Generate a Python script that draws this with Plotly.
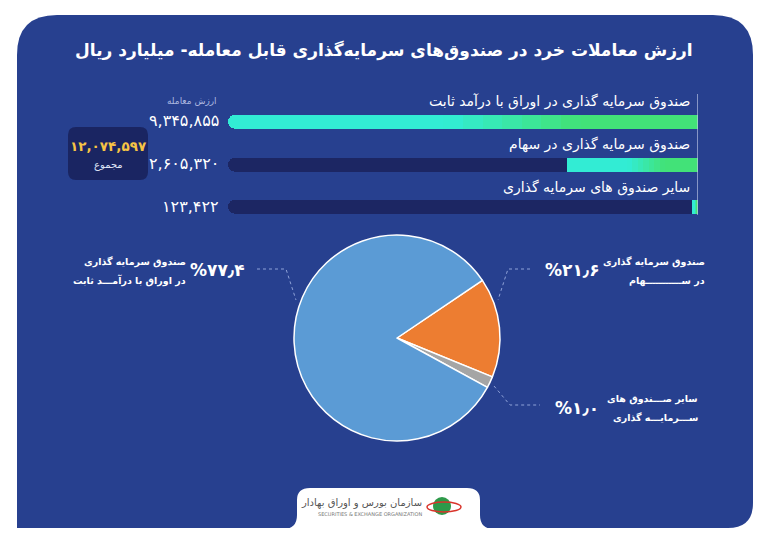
import plotly.graph_objects as go

W, H = 769, 544

title = "ارزش معاملات خرد در صندوق‌های سرمایه‌گذاری قابل معامله- میلیارد ریال"
value_header = "ارزش معامله"
total_caption = "مجموع"

fund_names = [
    "صندوق سرمایه گذاری در اوراق با درآمد ثابت",
    "صندوق سرمایه گذاری در سهام",
    "سایر صندوق های سرمایه گذاری",
]
trade_values = [9345855, 2605320, 123422]  # billion rials
total_value = 12074597

# pie is drawn clockwise starting with the stock fund slice;
# slice sizes as they appear in the picture (not the printed percentages)
pie_order = [1, 2, 0]
pie_drawn_share = [15.6, 1.8, 82.6]
pie_colors = ["#ed7d31", "#a5a5a5", "#5b9bd5"]

pie_captions = [
    ["صندوق سرمایه گذاری", "در اوراق با درآمـــد ثابت"],
    ["صندوق سرمایه گذاری", "در ســـــــــــهام"],
    ["سایر صـــندوق های", "ســـرمایـــه گذاری"],
]

FA = str.maketrans("0123456789", "۰۱۲۳۴۵۶۷۸۹")


def fa(s):
    return str(s).translate(FA)


def X(p):
    return p / W


def Y(p):
    return 1 - p / H


def pth(points, close=True):
    # points in pixels -> path in paper coords
    out = []
    for cmd, *c in points:
        xy = []
        for i in range(0, len(c), 2):
            xy.append(f"{X(c[i]):.5f},{Y(c[i + 1]):.5f}")
        out.append(cmd + " " + " ".join(xy))
    return " ".join(out) + (" Z" if close else "")


FONT = "DejaVu Sans"
PANEL = "#27408f"
TRACK = "#1c2663"
CYAN = (50, 236, 212)
GREEN = (66, 226, 120)


def grad(t):
    if t < 0.45:
        f = 0
    elif t > 0.72:
        f = 1
    else:
        f = (t - 0.45) / 0.27
    c = [round(a + (b - a) * f) for a, b in zip(CYAN, GREEN)]
    return f"rgb({c[0]},{c[1]},{c[2]})"


fig = go.Figure()

# --- horizontal bars (right anchored) ---
vmax = max(trade_values)
fig.add_trace(go.Bar(
    y=fund_names, x=[vmax] * len(fund_names), orientation="h",
    marker=dict(color=TRACK, cornerradius=7, line=dict(width=0)), width=0.33,
    hoverinfo="skip", showlegend=False,
))
steps = 24
for k in range(steps):
    t = k / steps
    fig.add_trace(go.Bar(
        y=fund_names, x=[v * (1 - t) for v in trade_values], orientation="h",
        marker=dict(color=grad(t), cornerradius=7 if k == 0 else 0,
                    line=dict(width=0)),
        width=0.33, hoverinfo="skip", showlegend=False,
    ))

# --- pie ---
fig.add_trace(go.Pie(
    labels=[fund_names[i] for i in pie_order],
    values=pie_drawn_share,
    marker=dict(colors=pie_colors, line=dict(color="#ffffff", width=1.5)),
    sort=False, direction="clockwise", rotation=56,
    textinfo="none", hoverinfo="label",
    domain=dict(x=[X(294), X(500)], y=[Y(441), Y(235)]),
    showlegend=False,
))

shapes = []
# panel
shapes.append(dict(
    type="path", xref="paper", yref="paper", layer="below",
    path=pth([("M", 17, 55), ("Q", 17, 15, 57, 15), ("L", 713, 15),
              ("Q", 753, 15, 753, 55), ("L", 753, 503),
              ("Q", 753, 528, 728, 528), ("L", 17, 528)]),
    fillcolor=PANEL, line=dict(width=0),
))
# total box
shapes.append(dict(
    type="path", xref="paper", yref="paper", layer="below",
    path=pth([("M", 68, 135), ("Q", 68, 127, 76, 127), ("L", 140, 127),
              ("Q", 148, 127, 148, 135), ("L", 148, 172),
              ("Q", 148, 180, 140, 180), ("L", 76, 180),
              ("Q", 68, 180, 68, 172)]),
    fillcolor="#1a2562", line=dict(width=0),
))
# end line of bars
shapes.append(dict(
    type="line", xref="x", yref="paper", x0=0, x1=0, y0=Y(94), y1=Y(215),
    line=dict(color="#c9d1ec", width=1.2),
))
# logo tab
shapes.append(dict(
    type="path", xref="paper", yref="paper",
    path=pth([("M", 283, 529), ("Q", 297, 529, 297, 515), ("L", 297, 500),
              ("Q", 297, 488, 310, 488), ("L", 467, 488),
              ("Q", 480, 488, 480, 500), ("L", 480, 515),
              ("Q", 480, 529, 494, 529), ("L", 494, 544), ("L", 283, 544)]),
    fillcolor="#ffffff", line=dict(width=0),
))
# logo mark
shapes.append(dict(type="circle", xref="paper", yref="paper",
                   x0=X(433), x1=X(451), y0=Y(515), y1=Y(497),
                   fillcolor="#2e9a4a", line=dict(width=0)))
shapes.append(dict(type="circle", xref="paper", yref="paper",
                   x0=X(427), x1=X(461), y0=Y(512), y1=Y(502),
                   fillcolor="rgba(0,0,0,0)", line=dict(color="#d9342b", width=1.5)))
# leader lines
leaders = [
    [("M", 257, 269), ("L", 286, 269), ("L", 296, 300)],
    [("M", 530, 269), ("L", 508, 269), ("L", 498, 300)],
    [("M", 494, 386), ("L", 510, 405), ("L", 540, 405)],
]
for pts in leaders:
    shapes.append(dict(type="path", xref="paper", yref="paper",
                       path=pth(pts, close=False),
                       line=dict(color="#8fa2d8", width=1, dash="dot")))


def note(x, y, text, size, color="#ffffff", anchor="center", **kw):
    return dict(x=x, y=y, xref=kw.pop("xref", "paper"), yref=kw.pop("yref", "paper"),
                text=text, xanchor=anchor, yanchor="middle", showarrow=False,
                font=dict(family=FONT, size=size, color=color), **kw)


ann = []
ann.append(note(X(384), Y(50), "<b>" + title + "</b>", 17))
ann.append(note(X(219), Y(101), value_header, 9, "#aeb9e0", "right"))
for name, v in zip(fund_names, trade_values):
    ann.append(note(0, name, name, 14, anchor="right", xref="x", yref="y",
                    xshift=-6, yshift=20))
    ann.append(note(X(221), name, fa(f"{v:,}"), 16, anchor="right", yref="y",
                    yshift=1))
ann.append(note(X(108), Y(146), "<b>" + fa(f"{total_value:,}") + "</b>", 13.5, "#f6c445"))
ann.append(note(X(108), Y(165), total_caption, 10, "#dfe4f5"))

# pie labels: printed share of total
pct = [fa(f"{v / total_value * 100:.1f}").replace(".", "٫") for v in trade_values]
pct_pos = [(247, 270, "right"), (543, 270, "left"), (553, 408, "left")]
cap_pos = [(188, 271), (707, 271), (700, 408)]
for i in range(3):
    px_, py_, anc = pct_pos[i]
    ann.append(note(X(px_), Y(py_), "<b>%" + pct[i] + "</b>", 17, anchor=anc))
    cx, cy = cap_pos[i]
    for j, line in enumerate(pie_captions[i]):
        ann.append(note(X(cx), Y(cy - 9.5 + 19 * j), "<b>" + line + "</b>", 9.5,
                        anchor="right"))

# logo text
ann.append(note(X(424), Y(503), "سازمان بورس و اوراق بهادار", 10, "#555555", "right"))
ann.append(note(X(424), Y(514), "SECURITIES & EXCHANGE ORGANIZATION", 5, "#777777",
                "right"))

fig.update_layout(
    width=W, height=H, margin=dict(l=0, r=0, t=0, b=0),
    paper_bgcolor="#ffffff", plot_bgcolor="rgba(0,0,0,0)",
    barmode="overlay", bargap=0,
    xaxis=dict(domain=[X(228), X(698)], range=[vmax, 0], visible=False,
               fixedrange=True),
    yaxis=dict(domain=[Y(228.25), Y(100.75)], type="category",
               range=[2.5, -0.5], visible=False, fixedrange=True),
    shapes=shapes, annotations=ann,
)

fig.write_html("out.html", config={"displayModeBar": False},
               post_script="document.body.style.margin='0px';")
